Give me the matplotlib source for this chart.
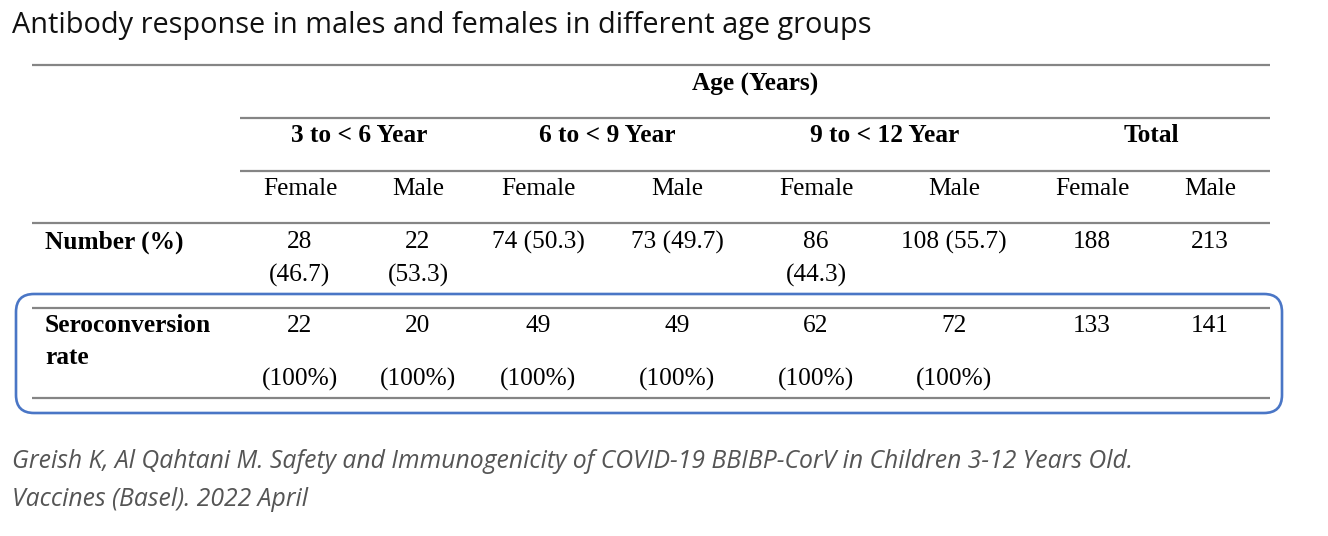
import matplotlib.pyplot as plt
from matplotlib.patches import FancyBboxPatch

# table content
title = "Antibody response in males and females in different age groups"
citation = ["Greish K, Al Qahtani M. Safety and Immunogenicity of COVID-19 BBIBP-CorV in Children 3-12 Years Old.",
            "Vaccines (Basel). 2022 April"]
super_header = "Age (Years)"
age_groups = ["3 to < 6 Year", "6 to < 9 Year", "9 to < 12 Year", "Total"]
sexes = ["Female", "Male"] * 4
number_pct = ["28\n(46.7)", "22\n(53.3)", "74 (50.3)", "73 (49.7)",
              "86\n(44.3)", "108 (55.7)", "188", "213"]
sero_counts = ["22", "20", "49", "49", "62", "72", "133", "141"]
sero_pct = ["(100%)", "(100%)", "(100%)", "(100%)", "(100%)", "(100%)", "", ""]
row_labels = ["Number (%)", "Seroconversion\nrate"]

W, H = 1328, 536
fig = plt.figure(figsize=(W / 100, H / 100), dpi=100)
ax = fig.add_axes([0, 0, 1, 1])
ax.set_xlim(0, W)
ax.set_ylim(H, 0)
ax.axis('off')

serif = "Liberation Serif"
fs = 18.3
dy = 2  # small nudge so text sits like the reference
rule = dict(color="#858585", lw=1.6, solid_capstyle="butt")


def lines(x, y, s, gap, **kw):
    # multi-line cell: one text per line, fixed pixel gap
    for i, part in enumerate(s.split("\n")):
        ax.text(x, y + dy + i * gap, part, fontsize=fs, family=serif, va="center", **kw)


# column layout (pixels)
col_x = [300, 418, 538, 677, 816, 954, 1092, 1210]
grp_x = [(col_x[2 * i] + col_x[2 * i + 1]) / 2 for i in range(4)]
left, right, inner = 32, 1270, 240

ax.text(12, 25, title, fontsize=20.8, family="Open Sans", va="center", ha="left", color="#111111")

# rules
for y, x0 in [(65, left), (118, inner), (171, inner), (223, left), (308, left), (398, left)]:
    ax.plot([x0, right], [y, y], **rule)

lines((inner + right) / 2, 82, super_header, 0, weight="bold", ha="center")
for x, g in zip(grp_x, age_groups):
    lines(x, 134, g, 0, weight="bold", ha="center")
for x, s in zip(col_x, sexes):
    lines(x, 187, s, 0, ha="center")

# number row
lines(45, 240, row_labels[0], 33, weight="bold", ha="left")
for x, v in zip(col_x, number_pct):
    lines(x, 240, v, 33, ha="center")

# seroconversion row
lines(45, 324, row_labels[1], 32, weight="bold", ha="left")
for x, c, p in zip(col_x, sero_counts, sero_pct):
    lines(x, 324, c, 0, ha="center")
    if p:
        lines(x, 377, p, 0, ha="center")

box = FancyBboxPatch((16, 294), 1266, 119, boxstyle="round,pad=0,rounding_size=18",
                     fill=False, ec="#4a76c6", lw=1.9)
ax.add_patch(box)

for y, line in zip([461, 499], citation):
    ax.text(12, y, line, fontsize=17.8, family="Open Sans", style="italic", color="#555555",
            ha="left", va="center")

fig.savefig("out.png", dpi=100)
